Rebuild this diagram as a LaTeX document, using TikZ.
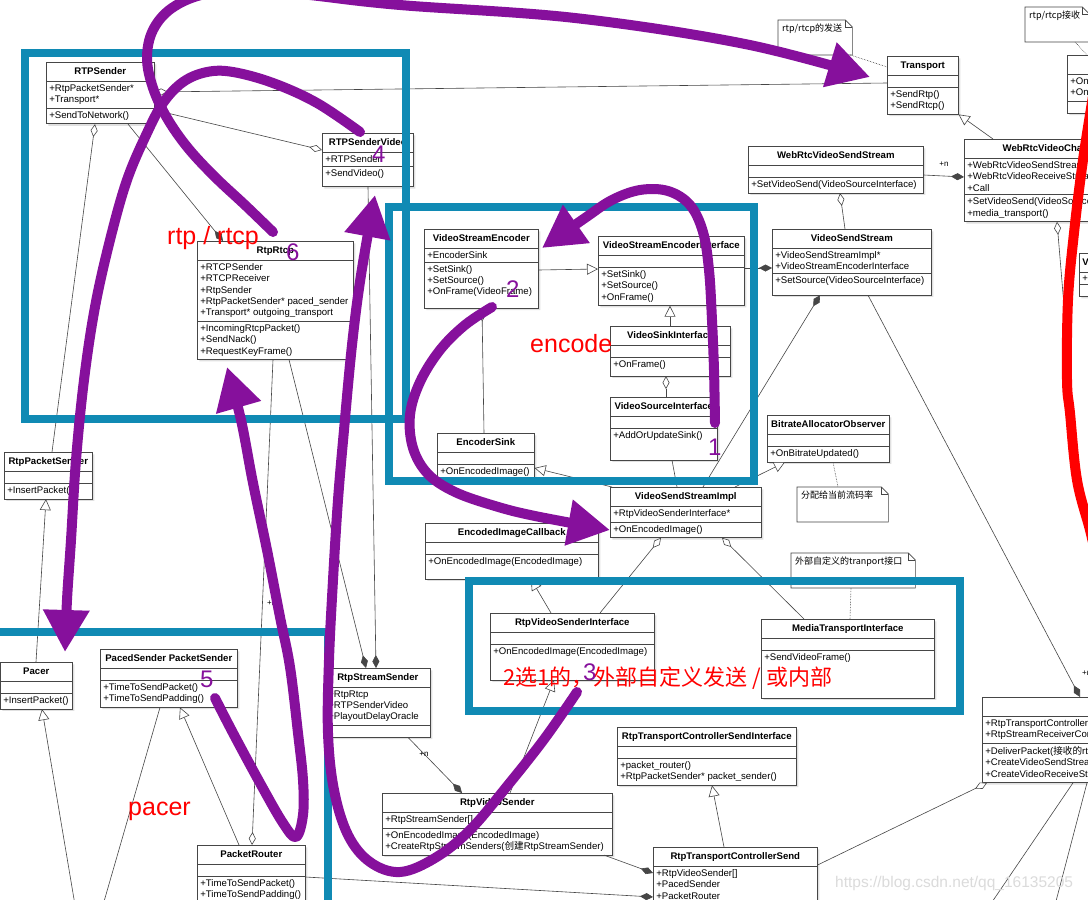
\documentclass[tikz,border=0pt]{standalone}
\usepackage{fontspec}
\setmainfont{Liberation Sans}
\newfontfamily\cjk{Noto Sans CJK SC}
\usepackage{tikz}
\usetikzlibrary{arrows.meta,shapes.multipart,shadows}
\definecolor{LineGray}{RGB}{70,70,70}
\definecolor{BoxBlue}{RGB}{16,138,180}
\definecolor{MarkPurple}{RGB}{134,16,156}
\definecolor{MarkRed}{RGB}{255,0,0}
\newcommand{\padbelow}[1]{\rule[-#1pt]{0pt}{#1pt}}
\newcommand{\classtitle}[1]{\rule[-3.5pt]{0pt}{12.5pt}\textbf{#1}}
\newcommand{\notefold}[1]{%
  \draw[LineGray, line width=0.6pt] (#1.north west) -- ([xshift=-7pt]#1.north east) -- ([yshift=-7pt]#1.north east) -- (#1.south east) -- (#1.south west) -- cycle;
  \draw[LineGray, line width=0.6pt] ([xshift=-7pt]#1.north east) |- ([yshift=-7pt]#1.north east);}

\begin{document}
\begin{tikzpicture}[x=1pt, y=-1pt, font=\fontsize{9.6}{11.3}\selectfont,
  umlclass/.style={rectangle split, rectangle split parts=3, rectangle split part align={center,left,left}, rectangle split empty part height=2pt, draw=LineGray, line width=0.6pt, fill=white, anchor=north west, align=left, inner xsep=3pt, inner ysep=3pt, minimum width=#1, drop shadow={shadow xshift=2pt, shadow yshift=-2pt, fill=black, opacity=0.12}},
  notebox/.style={anchor=north west, align=left, fill=white, inner xsep=4pt, inner ysep=4pt, text width=#1, font=\cjk\fontsize{9}{11}\selectfont},
  link/.style={draw=LineGray, line width=0.6pt},
  inherit/.style={link, -{Triangle[length=11pt, width=11pt, fill=white]}},
  aggregate/.style={link, {Diamond[length=13pt, width=7pt, fill=white]}-},
  aggregateend/.style={link, -{Diamond[length=13pt, width=7pt, fill=white]}},
  compose/.style={link, -{Diamond[length=13pt, width=7pt]}},
  notelink/.style={link, densely dotted},
  mult/.style={font=\fontsize{8}{8}\selectfont, inner sep=1pt},
  bluebox/.style={draw=BoxBlue, line width=8pt},
  markstroke/.style={draw=MarkPurple, line width=10pt, line cap=round, line join=round, -{Triangle[length=42pt, width=44pt]}},
  redtag/.style={text=MarkRed, font=\fontsize{25}{25}\selectfont, inner sep=0pt, anchor=base west},
  steptag/.style={text=MarkPurple, font=\fontsize{24}{24}\selectfont, inner sep=0pt, anchor=base west}]
  \useasboundingbox (0,0) rectangle (1088,900);
  \clip (0,0) rectangle (1088,900);
  \fill[white] (0,0) rectangle (1088,900);

  % rtp / rtcp
  \node[umlclass=108pt] (rtpsender) at (46,62) {\classtitle{RTPSender} \nodepart{two} +RtpPacketSender*\\+Transport* \nodepart{three} +SendToNetwork()};
  \node[umlclass=91pt] (sendervideo) at (322,133) {\classtitle{RTPSenderVideo} \nodepart{two} +RTPSender \nodepart{three} +SendVideo()\padbelow{7}};
  \node[umlclass=156pt] (rtprtcp) at (197,241) {\classtitle{RtpRtcp} \nodepart{two} +RTCPSender\\+RTCPReceiver\\+RtpSender\\+RtpPacketSender* paced\_sender\\+Transport* outgoing\_transport \nodepart{three} +IncomingRtcpPacket()\\+SendNack()\\+RequestKeyFrame()};
  \node[umlclass=88pt] (packetsender) at (4,452) {\classtitle{RtpPacketSender} \nodepart{two} \nodepart{three} +InsertPacket()};

  % pacer
  \node[umlclass=72pt] (pacer) at (0,662) {\classtitle{Pacer} \nodepart{two} \nodepart{three} +InsertPacket()};
  \node[umlclass=137pt] (pacedsender) at (100,649) {\classtitle{PacedSender PacketSender} \nodepart{two} \nodepart{three} +TimeToSendPacket()\\+TimeToSendPadding()};
  \node[umlclass=108pt] (packetrouter) at (197,845) {\classtitle{PacketRouter} \nodepart{two} \nodepart{three} +TimeToSendPacket()\\+TimeToSendPadding()};
  \node[umlclass=105pt] (streamsender) at (325,668) {\classtitle{RtpStreamSender} \nodepart{two} +RtpRtcp\\+RTPSenderVideo\\+PlayoutDelayOracle \nodepart{three}};
  \node[umlclass=230pt] (videosender) at (382,793) {\classtitle{RtpVideoSender} \nodepart{two} +RtpStreamSender[] \nodepart{three} +OnEncodedImage(EncodedImage)\\+CreateRtpStreamSenders({\cjk 创建}RtpStreamSender)};
  \node[umlclass=179pt] (ctrlinterface) at (617,727) {\classtitle{RtpTransportControllerSendInterface} \nodepart{two} \nodepart{three} +packet\_router()\\+RtpPacketSender* packet\_sender()};
  \node[umlclass=164pt] (ctrlsend) at (653,847) {\classtitle{RtpTransportControllerSend} \nodepart{two} +RtpVideoSender[]\\+PacedSender\\+PacketRouter \nodepart{three}};

  % send stream
  \node[umlclass=164pt] (senderinterface) at (490,613) {\classtitle{RtpVideoSenderInterface} \nodepart{two} \nodepart{three} +OnEncodedImage(EncodedImage)\padbelow{22}};
  \node[umlclass=173pt] (mediatransport) at (761,619) {\classtitle{MediaTransportInterface} \nodepart{two} \nodepart{three} +SendVideoFrame()\padbelow{34}};
  \node[umlclass=173pt] (imagecallback) at (425,523) {\classtitle{EncodedImageCallback} \nodepart{two} \nodepart{three} +OnEncodedImage(EncodedImage)\padbelow{11}};
  \node[umlclass=151pt] (streamimpl) at (610,487) {\classtitle{VideoSendStreamImpl} \nodepart{two} +RtpVideoSenderInterface* \nodepart{three} +OnEncodedImage()};
  \node[umlclass=122pt] (bitrateobserver) at (767,415) {\classtitle{BitrateAllocatorObserver} \nodepart{two} \nodepart{three} +OnBitrateUpdated()};

  % encode
  \node[umlclass=114pt] (encoder) at (424,229) {\classtitle{VideoStreamEncoder} \nodepart{two} +EncoderSink \nodepart{three} +SetSink()\\+SetSource()\\+OnFrame(VideoFrame)\padbelow{10}};
  \node[umlclass=146pt] (encoderinterface) at (598,236) {\classtitle{VideoStreamEncoderInterface} \nodepart{two} \nodepart{three} +SetSink()\\+SetSource()\\+OnFrame()};
  \node[umlclass=120pt] (sinkinterface) at (610,326) {\classtitle{VideoSinkInterface} \nodepart{two} \nodepart{three} +OnFrame()\padbelow{5}};
  \node[umlclass=107pt] (sourceinterface) at (610,397) {\classtitle{VideoSourceInterface} \nodepart{two} \nodepart{three} +AddOrUpdateSink()\padbelow{18}};
  \node[umlclass=97pt] (encodersink) at (437,433) {\classtitle{EncoderSink} \nodepart{two} \nodepart{three} +OnEncodedImage()};

  % channel side
  \node[umlclass=71pt] (transport) at (887,56) {\classtitle{Transport} \nodepart{two} \nodepart{three} +SendRtp()\\+SendRtcp()};
  \node[umlclass=175pt] (websendstream) at (748,146) {\classtitle{WebRtcVideoSendStream} \nodepart{two} \nodepart{three} +SetVideoSend(VideoSourceInterface)};
  \node[umlclass=176pt] (videochannel) at (964,139) {\classtitle{WebRtcVideoChannel} \nodepart{two} +WebRtcVideoSendStream\\+WebRtcVideoReceiveStream\\+Call \nodepart{three} +SetVideoSend(VideoSourceInterface)\\+media\_transport()};
  \node[umlclass=159pt] (videosendstream) at (772,229) {\classtitle{VideoSendStream} \nodepart{two} +VideoSendStreamImpl*\\+VideoStreamEncoderInterface \nodepart{three} +SetSource(VideoSourceInterface)\padbelow{8}};
  \node[umlclass=140pt] (receivebox) at (1067,55) {\classtitle{} \nodepart{two} +OnRtpPacket()\\+OnRtcpPacket() \nodepart{three}};
  \node[umlclass=60pt, rectangle split part align={left,left,left}] (vbox) at (1079,253) {\classtitle{V} \nodepart{two} + \nodepart{three}};
  \node[umlclass=240pt] (call) at (982,697) {\classtitle{} \nodepart{two} +RtpTransportControllerSend*\\+RtpStreamReceiverController \nodepart{three} +DeliverPacket({\cjk 接收的}rtp)\\+CreateVideoSendStream()\\+CreateVideoReceiveStream()};

  % notes
  \node[notebox=66pt] (sendnote) at (778,20) {rtp/rtcp的发送\padbelow{19}};
  \notefold{sendnote}
  \node[notebox=56pt] (recvnote) at (1025,7) {rtp/rtcp接收\padbelow{19}};
  \notefold{recvnote}
  \node[notebox=83pt] (ratenote) at (797,487) {分配给当前流码率\padbelow{19}};
  \notefold{ratenote}
  \node[notebox=116pt] (tportnote) at (791,553) {外部自定义的tranport接口\padbelow{19}};
  \notefold{tportnote}

  % connectors
  \draw[aggregate] ([yshift=-30pt]rtpsender.north east) -- ([yshift=-27pt]transport.north west);
  \draw[aggregateend] ([yshift=-48pt]rtpsender.north east) -- ([yshift=-17pt]sendervideo.north west);
  \draw[compose] ([xshift=82pt]rtpsender.south west) -- ([xshift=26pt]rtprtcp.north west);
  \draw[aggregate] ([xshift=49pt]rtpsender.south west) -- ([xshift=48pt]packetsender.north west);
  \draw[inherit] ([xshift=36pt]pacer.north west) -- ([xshift=42pt]packetsender.south west);
  \coordinate (pacertail) at (75,905);
  \coordinate (pacedtail) at (103,905);
  \draw[inherit] (pacertail) -- ([xshift=42pt]pacer.south west);
  \draw[link] (pacedtail) -- ([xshift=60pt]pacedsender.south west);
  \draw[inherit] ([xshift=42pt]packetrouter.north west) -- ([xshift=80pt]pacedsender.south west);
  \draw[aggregate] ([xshift=55pt]packetrouter.north west) -- ([xshift=76pt]rtprtcp.south west);
  \draw[compose] ([xshift=92pt]rtprtcp.south west) -- ([xshift=41pt]streamsender.north west);
  \draw[compose] ([xshift=46pt]sendervideo.south west) -- ([xshift=51pt]streamsender.north west);
  \draw[compose] ([xshift=83pt]streamsender.south west) -- ([xshift=80pt]videosender.north west);
  \draw[inherit] ([xshift=128pt]videosender.north west) -- ([xshift=64pt]senderinterface.south west);
  \draw[inherit] ([xshift=61pt]senderinterface.north west) -- ([xshift=106pt]imagecallback.south west);
  \draw[aggregate] ([xshift=51pt]streamimpl.south west) -- ([xshift=110pt]senderinterface.north west);
  \draw[aggregate] ([xshift=112pt]streamimpl.south west) -- ([xshift=43pt]mediatransport.north west);
  \draw[inherit] ([xshift=2pt]streamimpl.north west) -- ([yshift=-35pt]encodersink.north east);
  \draw[link] ([xshift=67pt]streamimpl.north west) -- ([xshift=62pt]sourceinterface.south west);
  \draw[inherit] ([xshift=125pt]streamimpl.north west) -- ([xshift=18pt]bitrateobserver.south west);
  \draw[compose] ([xshift=93pt]streamimpl.north west) -- ([xshift=48pt]videosendstream.south west);
  \draw[compose] ([yshift=-32pt]encoderinterface.north east) -- ([yshift=-39pt]videosendstream.north west);
  \draw[inherit] ([yshift=-41pt]encoder.north east) -- ([yshift=-33pt]encoderinterface.north west);
  \draw[inherit] ([xshift=60pt]sinkinterface.north west) -- ([xshift=72pt]encoderinterface.south west);
  \draw[aggregate] ([xshift=56pt]sinkinterface.south west) -- ([xshift=56pt]sourceinterface.north west);
  \draw[aggregate] ([xshift=58pt]encoder.south west) -- ([xshift=47pt]encodersink.north west);
  \draw[compose] ([yshift=-29pt]websendstream.north east) -- ([yshift=-38pt]videochannel.north west);
  \draw[aggregate] ([xshift=92pt]websendstream.south west) -- ([xshift=73pt]videosendstream.north west);
  \draw[inherit] ([xshift=29pt]videochannel.north west) -- (transport.south east);
  \coordinate (channeltail) at (1066,330);
  \draw[aggregate] ([xshift=93pt]videochannel.south west) -- (channeltail);
  \draw[compose] ([xshift=96pt]videosendstream.south west) -- ([xshift=98pt]call.north west);
  \draw[aggregateend] ([yshift=-18pt]ctrlsend.north east) -- ([xshift=5pt]call.south west);
  \coordinate (calltaila) at (990,905);
  \coordinate (calltailb) at (1055,905);
  \draw[link] ([xshift=91pt]call.south west) -- (calltaila);
  \draw[link] ([xshift=105pt]call.south west) -- (calltailb);
  \draw[compose] ([xshift=222pt]videosender.south west) -- ([yshift=-26pt]ctrlsend.north west);
  \draw[compose] ([yshift=-32pt]packetrouter.north east) -- ([yshift=-50pt]ctrlsend.north west);
  \draw[inherit] ([xshift=71pt]ctrlsend.north west) -- ([xshift=95pt]ctrlinterface.south west);
  \draw[notelink] ([xshift=-2pt]sendnote.south east) -- ([yshift=-11pt]transport.north west);
  \draw[notelink] ([xshift=50pt]recvnote.south west) -- ([xshift=20pt]receivebox.north west);
  \draw[notelink] ([xshift=66pt]bitrateobserver.south west) -- ([xshift=41pt]ratenote.north west);
  \draw[notelink] ([xshift=60pt]tportnote.south west) -- ([xshift=89pt]mediatransport.north west);
  \node[mult] (nsend) at (944,164) {+n};
  \node[mult] (nstream) at (424,754) {+n};
  \node[mult, anchor=west] (nrouter) at (266,603) {+n};
  \node[mult, anchor=west] (ncall) at (1081,673) {+n};

  % groups
  \draw[bluebox] (25,53) rectangle (406,419);
  \draw[bluebox] (389,207) rectangle (754,481);
  \draw[bluebox] (469,581) rectangle (960,711);
  \draw[bluebox] (-10,632) rectangle (328,910);

  % hand strokes
  \draw[markstroke] plot[smooth, tension=0.6] coordinates {(360,132) (317,103) (273,83) (233,72) (207,72) (183,82) (163,103) (147,133) (127,180) (110,240) (95,307) (84,380) (76,460) (71,540) (67,600) (65,652)};
  \draw[markstroke] plot[smooth, tension=0.6] coordinates {(273,232) (245,205) (215,177) (188,148) (167,118) (153,88) (147,58) (153,30) (172,8) (205,-6) (255,-11) (310,-5) (400,5) (575,18) (745,44) (870,77)};
  \draw[markstroke] plot[smooth, tension=0.6] coordinates {(577,692) (545,738) (508,785) (470,830) (435,858) (400,872) (370,862) (348,835) (334,790) (328,733) (329,660) (333,580) (338,500) (344,430) (352,345) (361,275) (375,195)};
  \draw[markstroke] plot[smooth, tension=0.6] coordinates {(215,698) (233,733) (260,783) (283,823) (296,837) (303,815) (303,780) (298,733) (290,667) (280,617) (267,550) (253,483) (241,420) (227,367)};
  \draw[markstroke] plot[smooth, tension=0.6] coordinates {(715,423) (714,370) (712,320) (709,270) (703,232) (690,205) (668,191) (640,190) (612,200) (585,218) (542,248)};
  \draw[markstroke] plot[smooth, tension=0.6] coordinates {(492,307) (465,325) (440,350) (420,382) (410,415) (413,448) (428,474) (455,492) (495,506) (535,516) (610,530)};
  \draw[draw=MarkRed, line width=10pt, line cap=round] plot[smooth, tension=0.6] coordinates {(1094,90) (1083,160) (1074,233) (1068,300) (1067,380) (1070,413) (1077,480) (1090,530) (1097,560)};

  % labels
  \node[redtag] (rtplabel) at (167,244) {rtp / rtcp};
  \node[redtag] (encodelabel) at (530,352) {encode};
  \node[redtag] (pacerlabel) at (128,815) {pacer};
  \node[redtag, font=\cjk\fontsize{22}{22}\selectfont] (choicelabel) at (503,685) {2选1的，外部自定义发送 / 或内部};
  \node[steptag] (stepone) at (708,455) {1};
  \node[steptag] (steptwo) at (506,297) {2};
  \node[steptag] (stepthree) at (583,680) {3};
  \node[steptag] (stepfour) at (372,162) {4};
  \node[steptag] (stepfive) at (200,687) {5};
  \node[steptag] (stepsix) at (286,260) {6};
  \node[anchor=base west, text=black!14, font=\fontsize{15.5}{15.5}\selectfont, inner sep=0pt] (watermark) at (835,887) {https://blog.csdn.net/qq\_16135205};
\end{tikzpicture}
\end{document}
